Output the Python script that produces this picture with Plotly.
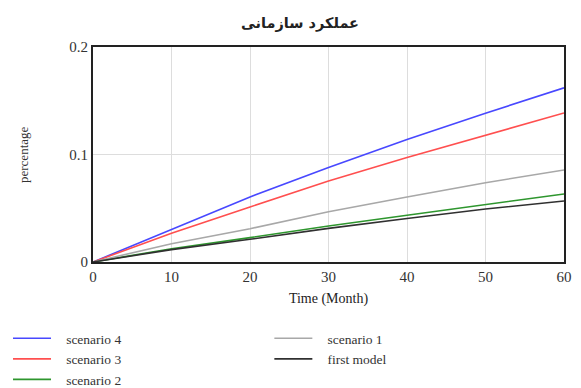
import plotly.graph_objects as go

months = [0, 10, 20, 30, 40, 50, 60]
scenario_4 = [0, 0.0305, 0.0605, 0.0880, 0.1140, 0.1384, 0.1620]
scenario_3 = [0, 0.0267, 0.0512, 0.0753, 0.0972, 0.1180, 0.1386]
scenario_2 = [0, 0.0124, 0.0227, 0.0335, 0.0435, 0.0537, 0.0633]
scenario_1 = [0, 0.0170, 0.0310, 0.0468, 0.0605, 0.0738, 0.0856]
first_model = [0, 0.0115, 0.0211, 0.0313, 0.0405, 0.0493, 0.0567]

series = [
    ("scenario 4", scenario_4, "#4848ff", "legend"),
    ("scenario 3", scenario_3, "#ff4f4f", "legend"),
    ("scenario 2", scenario_2, "#2e962e", "legend"),
    ("scenario 1", scenario_1, "#a8a8a8", "legend2"),
    ("first model", first_model, "#303030", "legend2"),
]

# page body has an 8px margin, so the figure is laid out 8px smaller
W, H = 573, 380

fig = go.Figure()
for name, vals, color, lg in series:
    fig.add_trace(go.Scatter(x=months, y=vals, mode="lines",
                             name="\u00a0\u00a0\u00a0" + name,
                             legend=lg, line=dict(color=color, width=1.6)))

serif = "Liberation Serif"
legend_common = dict(orientation="v", xref="container", yref="container",
                     xanchor="left", yanchor="top", itemwidth=38,
                     font=dict(family=serif, size=13.5, color="#333"),
                     bgcolor="rgba(0,0,0,0)", tracegroupgap=0)

L, R, T, B = 85, 17, 39, 126
pw, ph = W - L - R, H - T - B

fig.update_layout(
    width=W, height=H,
    margin=dict(l=L, r=R, t=T, b=B, autoexpand=False),
    paper_bgcolor="white", plot_bgcolor="white",
    title=dict(text="<b>عملکرد سازمانی</b>", x=(300 - 8) / W, xanchor="center",
               y=1 - 15 / H, yanchor="middle",
               font=dict(family="DejaVu Sans", size=14.5, color="#222")),
    font=dict(family=serif, size=14, color="#333"),
    xaxis=dict(range=[0, 60], dtick=10, showline=True, mirror=True,
               linecolor="#222", linewidth=2, showgrid=True, gridcolor="#dddddd",
               zeroline=False, ticks="", ticklen=0, automargin=False,
               tickfont=dict(family=serif, size=15, color="#333"),
               title=dict(text="Time (Month)", standoff=9,
                          font=dict(family=serif, size=14, color="#222"))),
    yaxis=dict(range=[0, 0.2], dtick=0.1, showline=True, mirror=True,
               linecolor="#222", linewidth=2, showgrid=True, gridcolor="#dddddd",
               zeroline=False, ticks="", ticklen=0, automargin=False,
               tickfont=dict(family=serif, size=15, color="#333")),
    annotations=[dict(text="percentage", xref="paper", yref="paper",
                      x=(23 - 8 - L) / pw, y=(H - B - (155 - 8)) / ph,
                      xanchor="center", yanchor="middle", textangle=-90,
                      showarrow=False,
                      font=dict(family=serif, size=13, color="#333"))],
    showlegend=True,
    legend=dict(x=0.0, y=1 - (323 - 8) / H, **legend_common),
    legend2=dict(x=265 / 581, y=1 - (323 - 8) / H, **legend_common),
)

fig.write_html("out.html")
